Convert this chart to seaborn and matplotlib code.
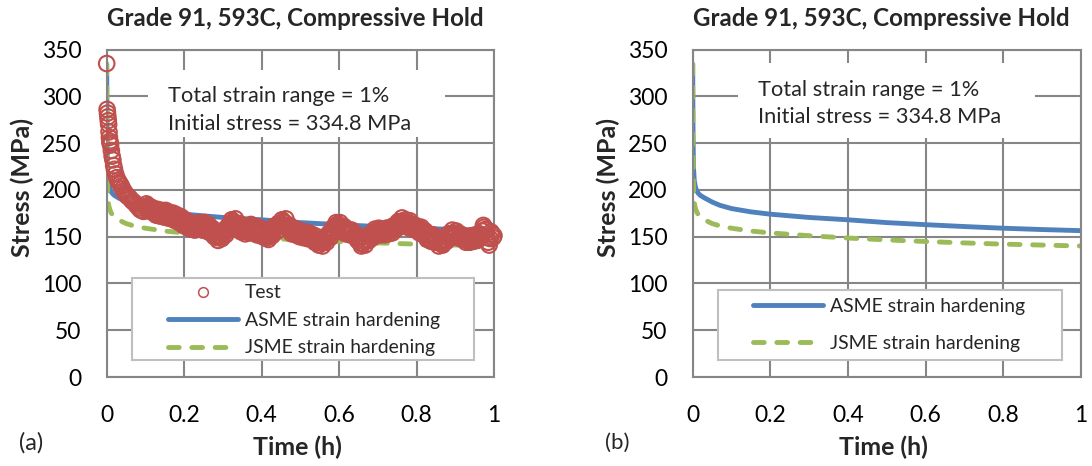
import numpy as np
import pandas as pd
import matplotlib
matplotlib.use("Agg")
import matplotlib.pyplot as plt
from matplotlib.lines import Line2D
from matplotlib.patches import Rectangle
import seaborn as sns

# ---------------- data ----------------
title = "Grade 91, 593C, Compressive Hold"
note_lines = ["Total strain range = 1%", "Initial stress = 334.8 MPa"]
x_label = "Time (h)"
y_label = "Stress (MPa)"

# Test data (early dense part)
test_t_early = [0.0, 0.001, 0.002, 0.003, 0.004, 0.005, 0.006, 0.007, 0.008, 0.009,
                0.010, 0.012, 0.014, 0.016, 0.018, 0.020, 0.023, 0.026, 0.029, 0.032,
                0.035, 0.038, 0.041, 0.044, 0.047, 0.050, 0.054, 0.058, 0.062, 0.066,
                0.070, 0.074, 0.078, 0.082, 0.086, 0.090, 0.095]
test_s_early = [335, 286, 282, 278, 274, 270, 262, 256, 252, 250,
                248, 242, 236, 232, 226, 222, 217, 213, 210, 208,
                206, 204, 201, 199, 197, 195, 193, 192, 190, 188,
                187, 185, 183, 181, 179, 178, 177]
# Test data from t = 0.1 h to 1.0 h, every 0.005 h
test_s_late = [181, 183, 179, 180, 177, 178, 175, 177, 174, 176,
               173, 175, 172, 174, 171, 172, 169, 170, 167, 168,
               164, 165, 162, 163, 160, 162, 159, 161, 163, 160,
               162, 159, 161, 158, 156, 153, 151, 149, 151, 150,
               153, 155, 157, 160, 163, 166, 165, 162, 160, 158,
               159, 156, 158, 157, 160, 157, 158, 155, 157, 154,
               156, 153, 151, 149, 152, 154, 157, 159, 160, 162,
               164, 166, 165, 162, 159, 157, 155, 156, 153, 154,
               152, 154, 151, 153, 150, 152, 149, 148, 147, 145,
               144, 143, 145, 147, 149, 152, 155, 158, 161, 163,
               162, 160, 158, 157, 155, 156, 154, 155, 152, 149,
               146, 143, 142, 145, 147, 150, 149, 152, 154, 156,
               155, 157, 154, 156, 155, 157, 156, 158, 157, 160,
               162, 164, 166, 167, 165, 163, 164, 162, 160, 161,
               159, 157, 158, 156, 154, 151, 148, 147, 150, 148,
               146, 144, 143, 145, 143, 146, 149, 151, 153, 154,
               152, 153, 150, 151, 149, 147, 146, 148, 147, 149,
               148, 150, 149, 152, 156, 160, 158, 144, 148, 153,
               151]
test_t_late = list(np.linspace(0.1, 1.0, len(test_s_late)))
# Test data half-way between the samples above (t = 0.1025 ... 0.9975 h)
test_s_mid = [185, 178, 182, 176, 180, 173, 179, 172, 178, 171,
              178, 170, 176, 169, 175, 167, 173, 165, 171, 162,
              168, 160, 166, 158, 164, 157, 164, 158, 165, 157,
              165, 156, 163, 154, 159, 150, 154, 146, 154, 148,
              157, 152, 161, 157, 168, 163, 169, 158, 164, 155,
              162, 153, 161, 154, 163, 154, 161, 152, 160, 151,
              158, 149, 153, 147, 156, 151, 161, 155, 164, 158,
              168, 162, 169, 158, 162, 153, 159, 152, 157, 150,
              156, 149, 155, 148, 154, 147, 152, 144, 150, 141,
              147, 140, 149, 144, 153, 149, 159, 155, 165, 160,
              165, 156, 161, 153, 158, 152, 157, 151, 153, 146,
              149, 140, 145, 141, 151, 146, 153, 149, 158, 152,
              159, 152, 158, 152, 159, 153, 160, 154, 162, 158,
              166, 161, 170, 163, 168, 160, 167, 158, 163, 157,
              161, 154, 160, 152, 156, 147, 151, 145, 152, 144,
              148, 140, 146, 141, 147, 145, 153, 149, 157, 150,
              156, 149, 153, 147, 151, 144, 150, 144, 151, 145,
              152, 146, 153, 150, 162, 157, 149, 141, 155, 149]
test_t_mid = list(np.linspace(0.1025, 0.9975, len(test_s_mid)))

# ASME strain hardening model
asme_t = [0, 0.0005, 0.001, 0.002, 0.004, 0.007, 0.01, 0.015, 0.02, 0.03, 0.05, 0.07,
          0.1, 0.15, 0.2, 0.3, 0.4, 0.5, 0.6, 0.7, 0.8, 0.9, 1.0]
asme_s = [334.8, 290, 255, 225, 210, 203, 199, 196, 194, 191.5, 187, 183.5,
          180, 176.5, 174, 170.5, 168, 165, 162.8, 160.8, 159, 157.6, 156.4]
# JSME strain hardening model
jsme_t = [0, 0.0005, 0.001, 0.002, 0.003, 0.005, 0.008, 0.012, 0.02, 0.03, 0.05, 0.07,
          0.1, 0.15, 0.2, 0.3, 0.4, 0.5, 0.6, 0.7, 0.8, 0.9, 1.0]
jsme_s = [334.8, 280, 240, 205, 192, 184, 179, 175, 171, 168, 164, 161.5,
          159, 156, 154, 151, 148.5, 146.5, 144.8, 143.3, 142, 141, 140]

x_ticks = [0, 0.2, 0.4, 0.6, 0.8, 1]
x_ticklabels = ["0", "0.2", "0.4", "0.6", "0.8", "1"]
y_ticks = [0, 50, 100, 150, 200, 250, 300, 350]

test_df = pd.DataFrame({"t": test_t_early + test_t_late + test_t_mid,
                        "s": test_s_early + test_s_late + test_s_mid})
asme_df = pd.DataFrame({"t": asme_t, "s": asme_s})
jsme_df = pd.DataFrame({"t": jsme_t, "s": jsme_s})

# ---------------- style ----------------
sns.set_style("white")
plt.rcParams["font.family"] = ["Lato", "DejaVu Sans"]

C_RED = "#C0504D"
C_BLUE = "#4F81BD"
C_GREEN = "#9BBB59"
C_GRID = "#868686"
C_FRAME = "#BFBFBF"

W, H = 1092, 466
PX = 72 / 100  # points per pixel
fig = plt.figure(figsize=(W / 100, H / 100), dpi=100)
renderer = fig.canvas.get_renderer()

def px_axes(x0, x1, ytop, ybot):
    return fig.add_axes([x0 / W, 1 - ybot / H, (x1 - x0) / W, (ybot - ytop) / H])

def fit_width(artist, target_px):
    w = artist.get_window_extent(renderer).width
    artist.set_fontsize(artist.get_fontsize() * target_px / w)

def fit_height(artist, target_px):
    h = artist.get_window_extent(renderer).height
    artist.set_fontsize(artist.get_fontsize() * target_px / h)

def ftext(x, y, s, **kw):
    return fig.text(x / W, 1 - y / H, s, **kw)

axA = px_axes(106.7, 494, 49.5, 377)
axB = px_axes(692.7, 1080.7, 49.5, 377)

def style_axes(ax):
    ax.set_xlim(0, 1)
    ax.set_ylim(0, 350)
    ax.set_xticks(x_ticks)
    ax.set_xticklabels(x_ticklabels)
    ax.set_yticks(y_ticks)
    ax.set_axisbelow(True)
    ax.grid(True, color=C_GRID, lw=1.5)
    for sp in ax.spines.values():
        sp.set_visible(True)
        sp.set_color(C_GRID)
        sp.set_linewidth(1.5)
    ax.tick_params(direction="out", length=6.3, width=1.5, color=C_GRID,
                   labelsize=18, labelcolor="black")
    ax.tick_params(axis="y", pad=11.8)
    ax.tick_params(axis="x", pad=13.8)
    ax.set_xlabel("")
    ax.set_ylabel("")

def fit_ticks(ax):
    fig.canvas.draw()
    lab = [t for t in ax.get_yticklabels() if t.get_text() == "350"][0]
    w = lab.get_window_extent(renderer).width
    size = 18 * 40 / w
    ax.tick_params(labelsize=size)

def draw_models(ax):
    sns.lineplot(data=asme_df, x="t", y="s", ax=ax, color=C_BLUE, lw=3.5,
                 sort=False, estimator=None, zorder=2, solid_capstyle="butt")
    sns.lineplot(data=jsme_df, x="t", y="s", ax=ax, color=C_GREEN, lw=3.5,
                 sort=False, estimator=None, zorder=2)
    ln = ax.lines[-1]
    ln.set_dashes((2.2, 2.6))
    ln.set_dash_capstyle("round")

def labels(dx):
    t = ftext(295 + dx, 18, title, fontsize=16, fontweight="bold", ha="center", va="center")
    fit_width(t, 378)
    yl = ftext(22 + dx, 187.5, y_label, fontsize=17, fontweight="bold",
               ha="center", va="center", rotation=90)
    fit_height(yl, 139)
    xl = ftext(297 + dx, 447, x_label, fontsize=18, fontweight="bold",
               ha="center", va="center")
    fit_width(xl, 89)
    tag = ftext(19 + dx, 443, "(a)" if dx == 0 else "(b)", fontsize=16,
                ha="left", va="center")
    fit_width(tag, 24.5)

def note(dx, x_left, y1, y2):
    a = ftext(x_left, y1, note_lines[0], fontsize=16, ha="left", va="center", zorder=6)
    b = ftext(x_left, y2, note_lines[1], fontsize=16, ha="left", va="center", zorder=6)
    fit_width(b, 243)
    a.set_fontsize(b.get_fontsize())

# ---------- panel (a) ----------
draw_models(axA)
sns.scatterplot(data=test_df, x="t", y="s", ax=axA, marker="o", s=125,
                facecolors="none", edgecolors=C_RED, linewidths=1.5,
                zorder=3, clip_on=False, legend=False)
style_axes(axA)
axA.add_patch(Rectangle((0.107, 256.5), 0.766, 72, facecolor="white",
                        edgecolor="none", zorder=1))

# ---------- panel (b) ----------
draw_models(axB)
style_axes(axB)
axB.add_patch(Rectangle((0.117, 255.4), 0.766, 80.2, facecolor="white",
                        edgecolor="none", zorder=1))

fit_ticks(axA)
fit_ticks(axB)
labels(0)
labels(586)
note(0, 168.3, 96.5, 124.5)
note(586, 758.3, 89.5, 117.5)

# ---------- legends ----------
h_test = Line2D([], [], ls="none", marker="o", ms=7, mfc="none", mec=C_RED, mew=1.1)
h_asme = Line2D([], [], color=C_BLUE, lw=3.5, solid_capstyle="round")
h_jsme = Line2D([], [], color=C_GREEN, lw=3.5, dash_capstyle="round", dashes=(2.2, 2.6))

def make_legend(ax, handles, labels_, frame, x_handle, y_first, pitch):
    ax.add_patch(Rectangle(frame[:2], frame[2], frame[3], transform=ax.transAxes,
                           facecolor="white", edgecolor=C_FRAME, lw=1.5,
                           zorder=4, clip_on=False))
    bb = ax.get_window_extent(renderer)

    def build(fs, ls, anchor):
        fs_px = fs / PX
        leg = ax.legend(handles, labels_, loc="upper left", bbox_to_anchor=anchor,
                        frameon=False, fontsize=fs, borderpad=0, borderaxespad=0,
                        handlelength=70 / fs_px, handletextpad=7 / fs_px,
                        labelspacing=ls)
        leg.set_zorder(5)
        fig.canvas.draw()
        return leg

    anchor = ((x_handle - bb.x0) / bb.width, (H - y_first + 10 - bb.y0) / bb.height)
    leg = build(16, 0.5, anchor)
    asme_txt = [t for t in leg.get_texts() if t.get_text().startswith("ASME")][0]
    fs = 16 * 196 / asme_txt.get_window_extent(renderer).width
    leg = build(fs, 0.5, anchor)
    tx = leg.get_texts()
    c0 = tx[0].get_window_extent(renderer)
    c1 = tx[1].get_window_extent(renderer)
    pitch_now = (c0.y0 + c0.y1) / 2 - (c1.y0 + c1.y1) / 2
    ls = 0.5 + (pitch - pitch_now) / (fs / PX)
    leg = build(fs, ls, anchor)
    c0 = leg.get_texts()[0].get_window_extent(renderer)
    cy = (c0.y0 + c0.y1) / 2
    target = H - y_first
    anchor = (anchor[0], anchor[1] + (target - cy) / bb.height)
    build(fs, ls, anchor)

make_legend(axA, [h_test, h_asme, h_jsme],
            ["Test", "ASME strain hardening", "JSME strain hardening"],
            (0.0653, 0.0519, 0.883, 0.2504), 168, 293, 27.5)
make_legend(axB, [h_asme, h_jsme],
            ["ASME strain hardening", "JSME strain hardening"],
            (0.0652, 0.0519, 0.8866, 0.2137), 753, 306.7, 36.6)

fig.savefig("out.png", dpi=100)
